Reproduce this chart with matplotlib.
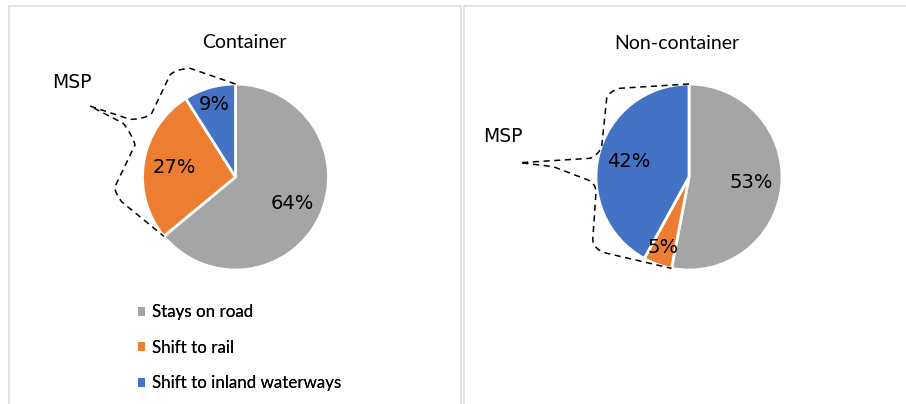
import matplotlib
matplotlib.use('Agg')
import matplotlib.pyplot as plt
import numpy as np
from matplotlib.path import Path
from matplotlib.patches import PathPatch, Patch, Rectangle

# Data
categories = ['Stays on road', 'Shift to rail', 'Shift to inland waterways']
container_share = [64, 27, 9]
noncontainer_share = [53, 5, 42]
panel_titles = ['Container', 'Non-container']
colors = ['#A5A5A5', '#ED7D31', '#4472C4']

W, H = 906, 404
R_PX = 93  # pie radius in pixels

fig = plt.figure(figsize=(W / 100, H / 100), dpi=100)
fig.patch.set_facecolor('white')

# panel frames (light grey boxes like the Excel chart areas)
fig.patches.append(Rectangle((9 / W, -0.05), (461 - 9) / W, 1.05 - 6 / H,
                             transform=fig.transFigure, fill=False,
                             edgecolor='#D9D9D9', lw=1.1))
fig.patches.append(Rectangle((464 / W, -0.05), 0.6, 1.05 - 6 / H,
                             transform=fig.transFigure, fill=False,
                             edgecolor='#D9D9D9', lw=1.1))


def pie_panel(left_px, width_px, cx_px, values, title, title_x, brace):
    ax = fig.add_axes([left_px / W, 0, width_px / W, 1])
    cy_px = 177
    wedges, _ = ax.pie(values, colors=colors, startangle=90, counterclock=False,
                       radius=1, wedgeprops=dict(edgecolor='white', linewidth=2))
    ax.set_xlim(-(cx_px - left_px) / R_PX, (left_px + width_px - cx_px) / R_PX)
    ax.set_ylim(-(H - cy_px) / R_PX, cy_px / R_PX)
    ax.set_aspect('equal')
    ax.axis('off')

    # percentage labels, small slices pushed further out
    for w, v in zip(wedges, values):
        mid = np.deg2rad((w.theta1 + w.theta2) / 2)
        d = 0.81 if v < 10 else 0.67
        ax.text(d * np.cos(mid), d * np.sin(mid), f'{v}%', ha='center', va='center',
                fontsize=14, family='DejaVu Sans', color='black')

    ax.text(title_x, 1 - 43 / H, title, transform=ax.transAxes, ha='center',
            va='center', fontsize=14, family='Lato', color='black')

    # dashed brace around the MSP slices: from the top of the pie to the
    # road / non-road boundary
    end_ang = np.deg2rad(wedges[0].theta1)
    start = (0, 1)
    end = (np.cos(end_ang), np.sin(end_ang))
    verts = [start] + brace + [end]
    codes = [Path.MOVETO] + brace_codes[title] + [Path.LINETO]
    ax.add_patch(PathPatch(Path(verts, codes), fill=False, ls=(0, (4, 3)),
                           lw=1.1, edgecolor='black'))

    handles = [Patch(facecolor=c, edgecolor='none') for c in colors]
    ax.legend(handles, categories, loc='upper left',
              bbox_to_anchor=((123 - left_px) / width_px, 1 - 289 / H),
              frameon=False, handlelength=0.42, handleheight=0.42,
              handletextpad=0.4, labelspacing=1.15,
              prop=dict(family='Lato', size=12.2))
    return ax


L, Q = Path.LINETO, Path.CURVE3

brace_left = [(-0.489, 1.169), (-0.651, 1.158), (-0.704, 1.097), (-0.901, 0.685),
              (-0.973, 0.620), (-1.134, 0.620), (-1.565, 0.763), (-1.206, 0.577),
              (-1.099, 0.433), (-1.081, 0.344), (-1.296, -0.104), (-1.303, -0.158),
              (-1.224, -0.266)]
brace_right = [(-0.742, 0.954), (-0.868, 0.917), (-0.885, 0.846), (-0.939, 0.326),
               (-0.975, 0.237), (-1.065, 0.201), (-1.817, 0.154), (-1.459, 0.111),
               (-1.086, -0.032), (-1.0, -0.075), (-1.0, -0.161), (-1.035, -0.677),
               (-1.022, -0.785), (-0.885, -0.820)]
brace_codes = {
    'Container': [L, Q, Q, L, Q, Q, L, L, Q, Q, L, Q, Q],
    'Non-container': [L, Q, Q, L, Q, Q, L, L, L, Q, Q, L, Q, Q],
}

ax1 = pie_panel(0, 462, 235.5, container_share, panel_titles[0], 244 / 462, brace_left)
ax2 = pie_panel(462, 444, 689, noncontainer_share, panel_titles[1], (677 - 462) / 444, brace_right)

# MSP annotations
ax1.text((72 - 235.5) / R_PX, (177 - 83) / R_PX, 'MSP', ha='center', va='center',
         fontsize=13.5, family='DejaVu Sans')
ax2.text((503 - 689) / R_PX, (177 - 137) / R_PX, 'MSP', ha='center', va='center',
         fontsize=13.5, family='DejaVu Sans')

plt.savefig('out.png', dpi=100)
